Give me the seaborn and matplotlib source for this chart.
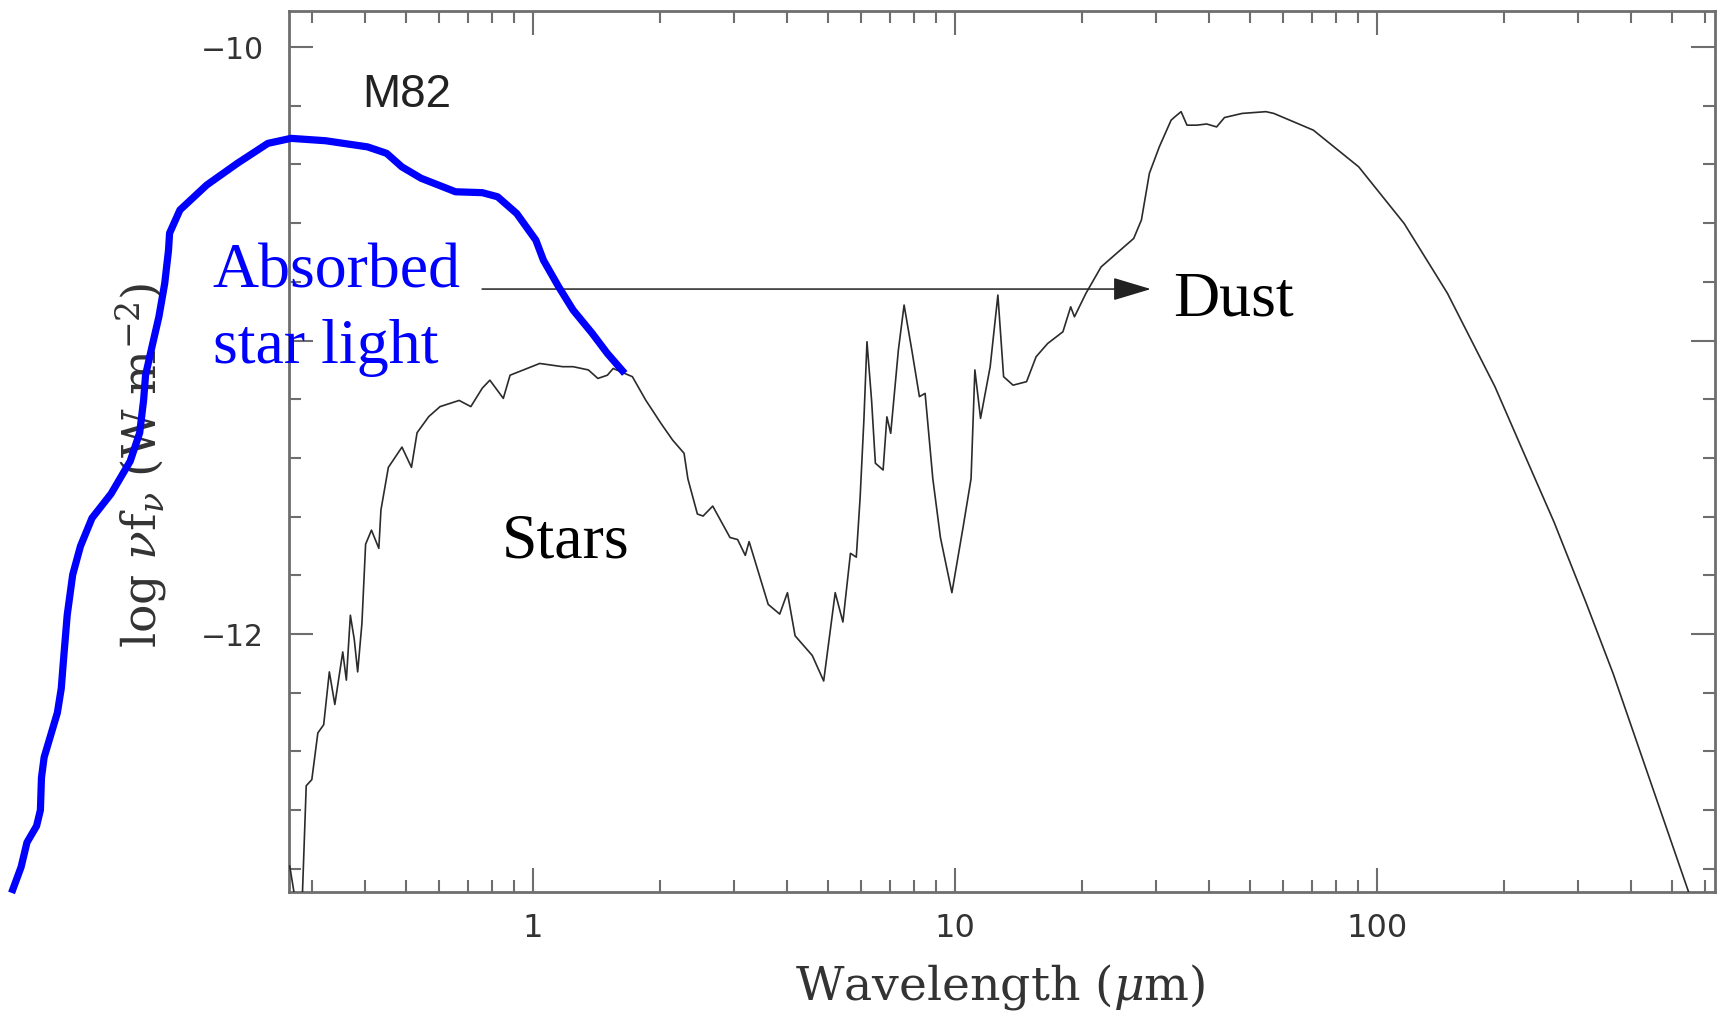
import numpy as np
import pandas as pd
import matplotlib
matplotlib.use("Agg")
import matplotlib.pyplot as plt
from matplotlib.ticker import FixedLocator, MultipleLocator, NullFormatter, FixedFormatter, LogLocator
import seaborn as sns

# ---------------- data ----------------
# M82 spectral energy distribution (black curve)
sed_wavelength_um = [0.265, 0.272, 0.284, 0.290, 0.299, 0.309, 0.319, 0.329, 0.339, 0.354,
                     0.361, 0.369, 0.377, 0.384, 0.393, 0.401, 0.414, 0.431, 0.436, 0.454,
                     0.489, 0.515, 0.531, 0.566, 0.602, 0.668, 0.712, 0.758, 0.790, 0.850,
                     0.882, 1.037, 1.175, 1.244, 1.352, 1.424, 1.500, 1.548, 1.649, 1.719,
                     1.849, 2.011, 2.141, 2.279, 2.327, 2.451, 2.528, 2.665, 2.928, 3.052,
                     3.183, 3.250, 3.607, 3.841, 4.006, 4.177, 4.587, 4.882, 5.199, 5.422,
                     5.650, 5.833, 5.955, 6.080, 6.183, 6.340, 6.473, 6.752, 6.893, 7.038,
                     7.339, 7.571, 7.896, 8.231, 8.491, 8.856, 9.231, 9.827, 10.46, 10.91,
                     11.14, 11.49, 12.11, 12.63, 13.03, 13.72, 14.77, 15.56, 16.57, 18.01,
                     18.79, 19.18, 20.42, 22.18, 24.13, 26.50, 27.64, 28.87, 30.47, 32.50,
                     33.21, 34.32, 35.44, 37.39, 39.47, 41.66, 43.49, 47.88, 54.52, 56.92,
                     70.62, 90.45, 115.9, 146.8, 190.2, 221.1, 262.7, 312.1, 362.8, 546.3,
                     567.0]
sed_log_flux = [-12.79, -12.89, -12.89, -12.517, -12.496, -12.337, -12.309, -12.129, -12.240, -12.061,
                -12.157, -11.936, -12.019, -12.129, -11.964, -11.694, -11.646, -11.708, -11.577, -11.432,
                -11.363, -11.432, -11.314, -11.259, -11.225, -11.204, -11.225, -11.162, -11.135, -11.197,
                -11.118, -11.078, -11.089, -11.089, -11.100, -11.129, -11.118, -11.095, -11.112, -11.123,
                -11.203, -11.283, -11.339, -11.384, -11.471, -11.591, -11.598, -11.564, -11.671, -11.678,
                -11.732, -11.685, -11.899, -11.932, -11.859, -12.006, -12.073, -12.160, -11.859, -11.959,
                -11.725, -11.738, -11.537, -11.270, -11.004, -11.203, -11.418, -11.441, -11.260, -11.316,
                -11.032, -10.879, -11.032, -11.191, -11.180, -11.471, -11.671, -11.859, -11.631, -11.471,
                -11.100, -11.265, -11.089, -10.845, -11.123, -11.152, -11.140, -11.055, -11.010, -10.970,
                -10.885, -10.919, -10.839, -10.749, -10.703, -10.652, -10.589, -10.430, -10.340, -10.249,
                -10.237, -10.220, -10.266, -10.266, -10.262, -10.272, -10.240, -10.226, -10.220, -10.226,
                -10.283, -10.408, -10.601, -10.839, -11.157, -11.373, -11.619, -11.890, -12.136, -12.876,
                -12.947]

# hand-drawn "absorbed star light" envelope (blue curve)
absorbed_wavelength_um = [0.0581, 0.0612, 0.0632, 0.0666, 0.0680, 0.0684, 0.0694, 0.0746, 0.0762, 0.0770,
                          0.0787, 0.0811, 0.0846, 0.0901, 0.1000, 0.1110, 0.1169, 0.1194, 0.1207, 0.1245,
                          0.1298, 0.1340, 0.1368, 0.1376, 0.1456, 0.1685, 0.1992, 0.2353, 0.2668, 0.3220,
                          0.4052, 0.4497, 0.4886, 0.5429, 0.6549, 0.7579, 0.8240, 0.9145, 1.0153, 1.058,
                          1.150, 1.244, 1.380, 1.500, 1.649]
absorbed_log_flux = [-12.882, -12.794, -12.710, -12.654, -12.600, -12.489, -12.420, -12.268, -12.185, -12.102,
                     -11.936, -11.798, -11.701, -11.605, -11.522, -11.411, -11.314, -11.204, -11.118, -11.032,
                     -10.919, -10.805, -10.692, -10.634, -10.555, -10.470, -10.396, -10.328, -10.311, -10.319,
                     -10.340, -10.362, -10.408, -10.447, -10.493, -10.496, -10.510, -10.567, -10.658, -10.726,
                     -10.817, -10.896, -10.975, -11.044, -11.112]

x_major_ticks = [1, 10, 100]
x_major_labels = ["1", "10", "100"]
y_major_ticks = [-12, -11, -10]
# the -11 label is covered by the "star light" annotation in the reference
y_major_labels = ["\u221212", "", "\u221210"]

# arrow from absorbed star light to dust (data coords)
arrow_start = (0.757, -10.8245)
arrow_end = (29.1, -10.8245)

# ---------------- styling ----------------
sns.set_theme(style="white")
plt.rcParams["font.family"] = ["DejaVu Sans"]
plt.rcParams["mathtext.fontset"] = "dejavuserif"

GRAY = "#6e6e6e"
TXT = "#333333"
BLUE = "#0000FF"

fig = plt.figure(figsize=(17.19, 10.16), dpi=100)
fig.patch.set_facecolor("white")
ax = fig.add_axes([289 / 1719, 1 - 892 / 1016, (1715 - 289) / 1719, (892 - 11) / 1016])
ax.set_facecolor("white")

sed = pd.DataFrame({"wavelength": sed_wavelength_um, "logflux": sed_log_flux})
absorbed = pd.DataFrame({"wavelength": absorbed_wavelength_um, "logflux": absorbed_log_flux})

sns.lineplot(data=sed, x="wavelength", y="logflux", ax=ax, estimator=None, sort=False,
             color="#2b2b2b", linewidth=1.2, zorder=3)
sns.lineplot(data=absorbed, x="wavelength", y="logflux", ax=ax, estimator=None, sort=False,
             color=BLUE, linewidth=5.2, zorder=5)
blue_line = ax.lines[-1]
blue_line.set_clip_on(False)
blue_line.set_solid_capstyle("butt")
blue_line.set_solid_joinstyle("round")

ax.set_xscale("log")
ax.set_xlim(0.264, 632)
ax.set_ylim(-12.879, -9.877)

ax.xaxis.set_major_locator(FixedLocator(x_major_ticks))
ax.xaxis.set_major_formatter(FixedFormatter(x_major_labels))
ax.xaxis.set_minor_locator(LogLocator(base=10, subs=np.arange(2, 10)))
ax.xaxis.set_minor_formatter(NullFormatter())
ax.yaxis.set_major_locator(FixedLocator(y_major_ticks))
ax.yaxis.set_major_formatter(FixedFormatter(y_major_labels))
ax.yaxis.set_minor_locator(MultipleLocator(0.2))

for side in ["left", "right", "top", "bottom"]:
    ax.spines[side].set_visible(True)
    ax.spines[side].set_color(GRAY)
    ax.spines[side].set_linewidth(2.0)

ax.tick_params(which="both", direction="in", top=True, right=True, bottom=True, left=True,
               color=GRAY, width=1.5, labelcolor=TXT)
ax.tick_params(which="major", length=17)
ax.tick_params(which="minor", length=8.3)
ax.tick_params(axis="y", which="major", labelsize=21.5, pad=18)
ax.tick_params(axis="x", which="major", labelsize=23, pad=15)

ax.set_xlabel(r"Wavelength ($\mu$m)", fontsize=34, color=TXT, family="DejaVu Serif")
ax.xaxis.set_label_coords(0.4986, -0.0795)
ax.set_ylabel(r"log $\nu$f$_\nu$ (W m$^{-2}$)", fontsize=34, color=TXT, family="DejaVu Serif")
ax.yaxis.set_label_coords(-0.0835, 0.4847)

# annotations
ax.text(0.0512, 0.891, "M82", transform=ax.transAxes, fontsize=33, color="#222222",
        family="Liberation Sans", va="baseline", ha="left")
ax.text(-0.0535, 0.6867, "Absorbed", transform=ax.transAxes, fontsize=46, color=BLUE,
        family="Liberation Serif", va="baseline", ha="left", zorder=6)
ax.text(-0.0535, 0.6005, "star light", transform=ax.transAxes, fontsize=46, color=BLUE,
        family="Liberation Serif", va="baseline", ha="left", zorder=6)
ax.text(0.1494, 0.3802, "Stars", transform=ax.transAxes, fontsize=46, color="black",
        family="Liberation Serif", va="baseline", ha="left")
ax.text(0.6199, 0.6549, "Dust", transform=ax.transAxes, fontsize=46, color="black",
        family="Liberation Serif", va="baseline", ha="left")

ax.annotate("", xy=arrow_end, xytext=arrow_start,
            arrowprops=dict(arrowstyle="-|>,head_length=1.2,head_width=0.36", mutation_scale=20,
                            color="#222222", lw=1.1, shrinkA=0, shrinkB=0),
            annotation_clip=False, zorder=4)

fig.savefig("out.png", dpi=100, facecolor="white")
